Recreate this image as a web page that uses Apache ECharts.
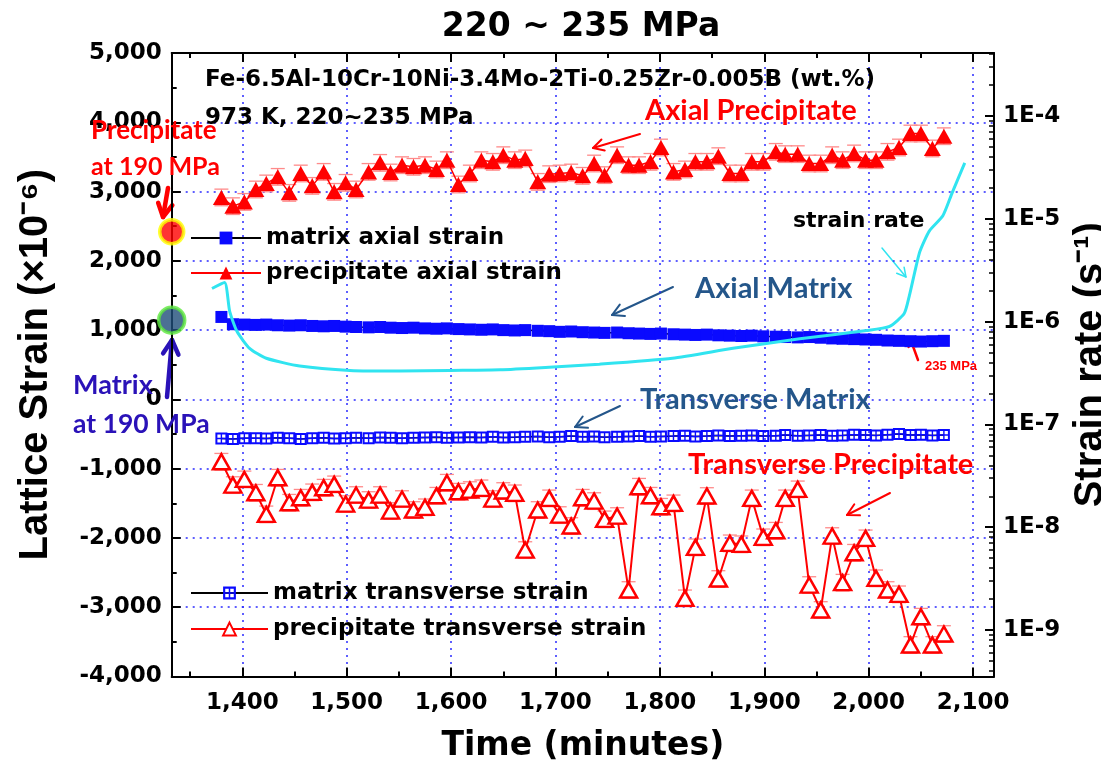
<!DOCTYPE html>
<html><head><meta charset="utf-8">
<script src="https://cdn.jsdelivr.net/npm/echarts@6/dist/echarts.min.js"></script>
<style>html,body{margin:0;padding:0;background:#fff}#c{width:1101px;height:767px}</style>
</head><body><div id="c"></div>
<script>
// ---- data ----
const times = [1380,1391,1402,1413,1423,1434,1445,1456,1467,1478,1488,1499,1509,1521,1532,1542,1553,1564,1575,1586,1596,1607,1618,1629,1640,1650,1661,1671,1683,1694,1704,1715,1726,1737,1747,1759,1770,1780,1791,1801,1813,1824,1834,1845,1856,1867,1878,1888,1899,1911,1920,1932,1943,1954,1965,1975,1986,1997,2007,2018,2029,2040,2050,2061,2072];
const matrixAxial = [1190,1085,1080,1075,1080,1070,1065,1070,1060,1055,1060,1050,1045,1040,1045,1035,1030,1035,1025,1020,1025,1015,1010,1005,1010,1000,995,1000,990,985,975,980,970,965,960,965,955,950,945,950,940,935,930,935,925,920,915,920,910,905,900,895,900,890,880,875,870,865,860,850,845,840,835,840,845];
const precipAxial = [2915,2789,2851,3030,3117,3212,2981,3261,3082,3284,2996,3126,3030,3284,3414,3275,3381,3357,3381,3319,3453,3102,3261,3453,3429,3525,3453,3478,3140,3251,3261,3275,3227,3405,3237,3525,3381,3381,3429,3636,3284,3319,3429,3429,3511,3261,3261,3429,3429,3573,3540,3540,3405,3405,3525,3453,3550,3453,3453,3573,3636,3838,3838,3622,3799];
const matrixTrans = [-565,-570,-560,-560,-565,-555,-560,-570,-560,-555,-565,-560,-555,-560,-550,-555,-560,-555,-550,-545,-555,-550,-545,-550,-540,-550,-545,-540,-535,-545,-540,-530,-540,-535,-545,-540,-535,-530,-540,-535,-530,-525,-535,-530,-520,-530,-525,-520,-530,-525,-515,-525,-520,-515,-525,-520,-510,-515,-520,-510,-500,-515,-510,-520,-515];
const precipTrans = [-900,-1237,-1155,-1348,-1660,-1131,-1492,-1420,-1342,-1275,-1227,-1511,-1381,-1453,-1381,-1612,-1439,-1597,-1558,-1391,-1203,-1333,-1309,-1284,-1439,-1323,-1356,-2175,-1597,-1429,-1670,-1828,-1420,-1468,-1732,-1684,-2752,-1261,-1391,-1550,-1501,-2872,-2136,-1395,-2593,-2078,-2092,-1429,-1991,-1896,-1429,-1299,-2680,-3040,-1973,-2646,-2214,-2006,-2583,-2752,-2814,-3545,-3137,-3545,-3387];
const precipErr = 120;
const rateTimes = [1371,1383,1388,1395,1407,1423,1455,1503,1551,1599,1647,1694,1742,1812,1870,1934,1998,2020,2034,2039,2044,2049,2058,2071,2080,2092];
const rateValues = [2.1e-6,2.4e-6,1.25e-6,8.0e-7,5.5e-7,4.4e-7,3.7e-7,3.35e-7,3.3e-7,3.35e-7,3.4e-7,3.6e-7,3.85e-7,4.4e-7,5.5e-7,6.8e-7,8.2e-7,9.0e-7,1.2e-6,1.8e-6,3.0e-6,4.8e-6,7.6e-6,1.07e-5,1.8e-5,3.5e-5];
const ref190Time = [1332.4];
const ref190Precip = [2420];
const ref190Matrix = [1144];
const xTicks = [1400,1500,1600,1700,1800,1900,2000,2100];
const xMinorTicks = [1350,1450,1550,1650,1750,1850,1950,2050];
const X_MIN = 1332.4, X_MAX = 2120;
const LOG_MIN = -9.452, LOG_MAX = -3.387;

const rateMinorLog = [];
for (let e = -10; e <= -4; e++) for (let m = 2; m <= 9; m++) {
  const l = Math.log10(m) + e; if (l > LOG_MIN && l < LOG_MAX) rateMinorLog.push(l);
}
const fmtComma = v => { const s = Math.abs(v).toString().replace(/\B(?=(\d{3})+(?!\d))/g, ','); return (v < 0 ? '-' : '') + s; };

const F = 'DejaVu Sans';
const C = 'Lato';
const gridDot = { color: '#2a2aff', type: [2, 5], width: 1.5 };
const black = { color: '#000', width: 2 };

function pair(a) { return times.map((t, i) => [t, a[i]]); }
function errSeries(vals, err) {
  return {
    type: 'custom', xAxisIndex: 0, yAxisIndex: 0, z: 1, silent: true,
    data: pair(vals),
    renderItem: (p, api) => {
      const t = api.value(0), v = api.value(1);
      const a = api.coord([t, v + err]), b = api.coord([t, v - err]);
      const st = { stroke: '#ff8a8a', lineWidth: 1.3 };
      return { type: 'group', children: [
        { type: 'line', shape: { x1: a[0] - 7, y1: a[1], x2: a[0] + 7, y2: a[1] }, style: st },
        { type: 'line', shape: { x1: b[0] - 7, y1: b[1], x2: b[0] + 7, y2: b[1] }, style: st },
        { type: 'line', shape: { x1: a[0], y1: a[1], x2: b[0], y2: b[1] }, style: { stroke: '#ff8a8a', lineWidth: 1 } }
      ] };
    }
  };
}
function arrow(x1, y1, x2, y2, color, w, head) {
  const ang = Math.atan2(y2 - y1, x2 - x1);
  const h = head || 12, sp = 0.5;
  const p1 = [x2 - h * Math.cos(ang - sp), y2 - h * Math.sin(ang - sp)];
  const p2 = [x2 - h * Math.cos(ang + sp), y2 - h * Math.sin(ang + sp)];
  return { type: 'group', z: 100, children: [
    { type: 'line', shape: { x1, y1, x2, y2 }, style: { stroke: color, lineWidth: w, lineCap: 'round' } },
    { type: 'polyline', shape: { points: [p1, [x2, y2], p2] }, style: { stroke: color, lineWidth: w, fill: null, lineCap: 'round', lineJoin: 'round' } }
  ] };
}
function txt(x, y, text, color, size, family) {
  return { type: 'text', x, y, z: 100, style: { text, fill: color, font: 'bold ' + size + 'px "' + family + '"', textVerticalAlign: 'middle', textAlign: 'left' } };
}

const chart = echarts.init(document.getElementById('c'), null, { renderer: 'canvas' });
const hollowSq = 'path://M0,0L12,0L12,12L0,12Z M2,2L2,5.3L5.3,5.3L5.3,2Z M6.7,2L6.7,5.3L10,5.3L10,2Z M2,6.7L2,10L5.3,10L5.3,6.7Z M6.7,6.7L6.7,10L10,10L10,6.7Z';
const noZeroLine = (extra) => Object.assign({ onZero: false }, extra);

chart.setOption({
  backgroundColor: '#fff',
  animation: false,
  title: { text: '220 ~ 235 MPa', left: 576, top: 6, textAlign: 'center',
    textStyle: { fontFamily: F, fontWeight: 'bold', fontSize: 33, color: '#000' } },
  grid: { left: 171.7, right: 107, top: 53, bottom: 90.5, containLabel: false, outerBoundsMode: 'none' },
  legend: [
    { data: ['matrix axial strain', 'precipitate axial strain'], orient: 'vertical', left: 185, top: 221,
      itemWidth: 70, itemHeight: 16, itemGap: 11,
      textStyle: { fontFamily: F, fontWeight: 'bold', fontSize: 23, color: '#000', lineHeight: 24 } },
    { data: ['matrix transverse strain', 'precipitate transverse strain'], orient: 'vertical', left: 185, top: 576,
      itemWidth: 77, itemHeight: 16, itemGap: 12,
      textStyle: { fontFamily: F, fontWeight: 'bold', fontSize: 23, color: '#000', lineHeight: 24 } }
  ],
  xAxis: [
    { type: 'value', position: 'bottom', min: X_MIN, max: X_MAX,
      axisLine: noZeroLine({ lineStyle: black }), axisTick: { inside: true, length: 9, lineStyle: black, customValues: xTicks },
      axisLabel: { customValues: xTicks, formatter: fmtComma, fontFamily: F, fontWeight: 'bold', fontSize: 23, color: '#000', margin: 15 },
      splitLine: { show: true, lineStyle: gridDot },
      name: 'Time (minutes)', nameLocation: 'middle', nameGap: 53,
      nameTextStyle: { fontFamily: F, fontWeight: 'bold', fontSize: 33, color: '#000' } },
    { type: 'value', position: 'top', min: X_MIN, max: X_MAX,
      axisLine: noZeroLine({ lineStyle: black }), axisTick: { inside: true, length: 9, lineStyle: black, customValues: xTicks },
      axisLabel: { show: false }, splitLine: { show: false } },
    { type: 'value', position: 'bottom', min: X_MIN, max: X_MAX,
      axisLine: noZeroLine({ show: false }), axisTick: { inside: true, length: 5, lineStyle: black, customValues: xMinorTicks },
      axisLabel: { show: false }, splitLine: { show: false } },
    { type: 'value', position: 'top', min: X_MIN, max: X_MAX,
      axisLine: noZeroLine({ show: false }), axisTick: { inside: true, length: 5, lineStyle: black, customValues: xMinorTicks },
      axisLabel: { show: false }, splitLine: { show: false } }
  ],
  yAxis: [
    { type: 'value', position: 'left', min: -4000, max: 5000, interval: 1000,
      axisLine: noZeroLine({ show: true, lineStyle: black }), axisTick: { show: true, inside: true, length: 9, lineStyle: black },
      minorTick: { show: true, splitNumber: 2, length: 5, lineStyle: black },
      axisLabel: { formatter: fmtComma, fontFamily: F, fontWeight: 'bold', fontSize: 23, color: '#000', margin: 10 },
      splitLine: { show: true, lineStyle: gridDot },
      name: 'Lattice Strain (×10⁻⁶)', nameLocation: 'middle', nameGap: 116,
      nameTextStyle: { fontFamily: 'Liberation Sans', fontWeight: 'bold', fontSize: 40, color: '#000' } },
    { type: 'log', position: 'right', min: Math.pow(10, LOG_MIN), max: Math.pow(10, LOG_MAX), logBase: 10,
      axisLine: noZeroLine({ show: true, lineStyle: black }), axisTick: { show: true, inside: true, length: 9, lineStyle: black },
      axisLabel: { formatter: v => '1E' + Math.round(Math.log10(v)), showMinLabel: false, showMaxLabel: false,
        fontFamily: F, fontWeight: 'bold', fontSize: 23, color: '#000', margin: 9 },
      splitLine: { show: false },
      name: 'Strain rate (s⁻¹)', nameLocation: 'middle', nameGap: 58, nameRotate: 90,
      nameTextStyle: { fontFamily: 'Liberation Sans', fontWeight: 'bold', fontSize: 40, color: '#000' } },
    { type: 'value', position: 'right', min: LOG_MIN, max: LOG_MAX,
      axisLine: noZeroLine({ show: false }), axisTick: { show: true, inside: true, length: 5, lineStyle: { color: '#000', width: 1.5 }, customValues: rateMinorLog },
      axisLabel: { show: false }, splitLine: { show: false } }
  ],
  series: [
    errSeries(precipAxial, precipErr),
    errSeries(precipTrans, precipErr),
    { name: 'matrix axial strain', type: 'line', data: pair(matrixAxial), symbol: 'rect', symbolSize: 12,
      itemStyle: { color: '#0a0aff' }, lineStyle: { color: '#000', width: 1.5 }, z: 3 },
    { name: 'precipitate axial strain', type: 'line', data: pair(precipAxial), symbol: 'triangle', symbolSize: [17, 15],
      itemStyle: { color: '#ff0000' }, lineStyle: { color: '#ff0000', width: 1.5 }, z: 3 },
    { name: 'matrix transverse strain', type: 'line', data: pair(matrixTrans), symbol: hollowSq, symbolSize: 12,
      itemStyle: { color: '#0a0aff' }, lineStyle: { color: '#000', width: 1.5 }, z: 3 },
    { name: 'precipitate transverse strain', type: 'line', data: pair(precipTrans), symbol: 'triangle', symbolSize: [17, 15],
      itemStyle: { color: '#fff', borderColor: '#ff0000', borderWidth: 2.5 }, lineStyle: { color: '#ff0000', width: 2 }, z: 3 },
    { name: 'precipitate at 190 MPa', type: 'scatter', data: ref190Time.map((t, i) => [t, ref190Precip[i]]), symbolSize: 24,
      itemStyle: { color: '#ff0000', borderColor: '#ffff00', borderWidth: 3.5 }, clip: false, z: 5 },
    { name: 'matrix at 190 MPa', type: 'scatter', data: ref190Time.map((t, i) => [t, ref190Matrix[i]]), symbolSize: 26,
      itemStyle: { color: '#1f4e79', borderColor: '#5de83c', borderWidth: 3.5 }, clip: false, z: 5 },
    { name: 'strain rate', type: 'line', yAxisIndex: 1, data: rateTimes.map((t, i) => [t, rateValues[i]]), symbol: 'none', smooth: 0.2,
      lineStyle: { color: '#30e4f0', width: 3 }, z: 6 }
  ],
  graphic: [
    txt(205, 80, 'Fe-6.5Al-10Cr-10Ni-3.4Mo-2Ti-0.25Zr-0.005B (wt.%)', '#000', 23, F),
    txt(205, 118, '973 K, 220~235 MPa', '#000', 23, F),
    txt(645, 111, 'Axial Precipitate', '#ff0000', 29, C),
    arrow(640, 134, 593, 148, '#ff0000', 2, 12),
    txt(91, 131, 'Precipitate', '#ff0000', 26, C),
    txt(91, 167, 'at 190 MPa', '#ff0000', 25, C),
    arrow(168, 188, 163, 217, '#ff0000', 4.5, 15),
    txt(73, 385, 'Matrix', '#2a12b8', 27, C),
    txt(73, 424, 'at 190 MPa', '#2a12b8', 26.5, C),
    arrow(167, 397, 172, 340, '#2a12b8', 4.5, 16),
    txt(695, 289, 'Axial Matrix', '#24568a', 29, C),
    arrow(673, 287, 612, 315, '#24568a', 2, 13),
    txt(793, 221, 'strain rate', '#000', 22, F),
    arrow(882, 248, 906, 277, '#30e4f0', 1.5, 10),
    txt(640, 400, 'Transverse Matrix', '#24568a', 29, C),
    arrow(620, 406, 575, 427, '#24568a', 2, 13),
    txt(925, 366, '235 MPa', '#ff0000', 13, 'Liberation Sans'),
    arrow(918, 360, 910, 338, '#ff0000', 2.5, 9),
    txt(688, 465, 'Transverse Precipitate', '#ff0000', 29, C),
    arrow(890, 493, 847, 515, '#ff0000', 2, 13)
  ]
});
</script></body></html>
